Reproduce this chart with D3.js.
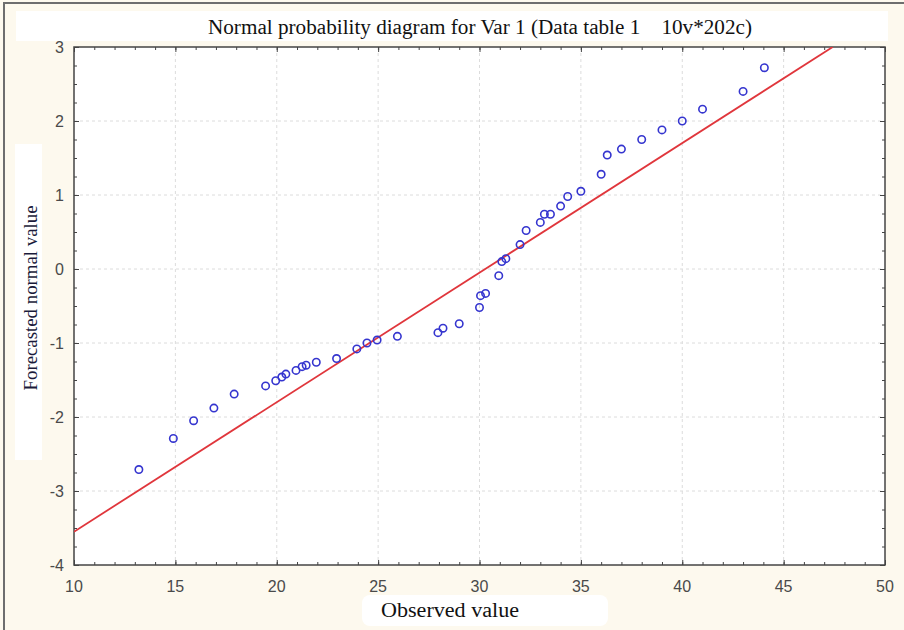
<!DOCTYPE html>
<html>
<head>
<meta charset="utf-8">
<script src="https://cdn.jsdelivr.net/npm/d3@7"></script>
<style>
  body { margin: 0; background: #fdf9ee; }
  svg { display: block; }
</style>
</head>
<body>
<svg id="chart" width="904" height="630"></svg>
<script>
const observed = [13.2, 14.9, 15.9, 16.9, 17.9, 19.45, 19.95, 20.25, 20.45, 20.95, 21.25, 21.45, 21.95,
  22.95, 23.95, 24.45, 24.95, 25.95, 27.95, 28.2, 29.0, 30.0, 30.05, 30.3, 30.95, 31.1, 31.3,
  32.0, 32.3, 33.0, 33.2, 33.5, 34.0, 34.35, 35.0, 36.0, 36.3, 37.0, 38.0, 39.0, 40.0, 41.0, 43.0, 44.05];
const forecast = [-2.71, -2.29, -2.05, -1.88, -1.69, -1.58, -1.51, -1.46, -1.42, -1.37, -1.32, -1.30, -1.26,
  -1.21, -1.08, -1.00, -0.96, -0.91, -0.86, -0.80, -0.74, -0.52, -0.36, -0.33, -0.09, 0.10, 0.14,
  0.33, 0.52, 0.63, 0.74, 0.74, 0.85, 0.98, 1.05, 1.28, 1.54, 1.62, 1.75, 1.88, 2.00, 2.16, 2.40, 2.72];

// reference line end points
const lineX = [10, 47.42];
const lineY = [-3.55, 3];

const xTicks = [10, 15, 20, 25, 30, 35, 40, 45, 50];
const yTicks = [-4, -3, -2, -1, 0, 1, 2, 3];

const svg = d3.select("#chart");
const pL = 74, pR = 885, pT = 47, pB = 565;

const x = d3.scaleLinear().domain([10, 50]).range([pL, pR]);
const y = d3.scaleLinear().domain([-4, 3]).range([pB, pT]);

// outer frame, left and top only
svg.append("path")
    .attr("d", "M4,630 V3 H904")
    .attr("fill", "none")
    .attr("stroke", "#6e6e6e")
    .attr("stroke-width", 2);

// white patches behind the titles
svg.append("rect").attr("x", 16).attr("y", 11).attr("width", 872).attr("height", 30).attr("fill", "#fff");
svg.append("rect").attr("x", 362).attr("y", 595).attr("width", 246).attr("height", 31).attr("rx", 8).attr("fill", "#fff");
svg.append("rect").attr("x", 15).attr("y", 144).attr("width", 27).attr("height", 316).attr("fill", "#fff");

// plot background
svg.append("rect")
    .attr("x", pL).attr("y", pT)
    .attr("width", pR - pL).attr("height", pB - pT)
    .attr("fill", "#fff");

// grid
svg.append("g").selectAll("line")
    .data(xTicks.slice(1, -1))
    .join("line")
    .attr("x1", d => x(d)).attr("x2", d => x(d))
    .attr("y1", pT).attr("y2", pB)
    .attr("stroke", "#dcdcdc").attr("stroke-dasharray", "3,3");
svg.append("g").selectAll("line")
    .data(yTicks.slice(1, -1))
    .join("line")
    .attr("x1", pL).attr("x2", pR)
    .attr("y1", d => y(d)).attr("y2", d => y(d))
    .attr("stroke", "#dcdcdc").attr("stroke-dasharray", "3,3");

// axes with inward ticks
const xMinor = d3.range(10, 50.01, 1);
const yMinor = d3.range(-4, 3.01, 0.25);

function axisTicks(g, axis, vals, len) {
  g.call(axis.tickValues(vals).tickSize(len).tickFormat(""));
  g.select(".domain").remove();
  g.selectAll("line").attr("stroke", "#444");
}

svg.append("g").attr("transform", `translate(0,${pB})`).call(g => axisTicks(g, d3.axisTop(x), xMinor, 3));
svg.append("g").attr("transform", `translate(0,${pB})`).call(g => axisTicks(g, d3.axisTop(x), xTicks, 5));
svg.append("g").attr("transform", `translate(0,${pT})`).call(g => axisTicks(g, d3.axisBottom(x), xMinor, 3));
svg.append("g").attr("transform", `translate(0,${pT})`).call(g => axisTicks(g, d3.axisBottom(x), xTicks, 5));
svg.append("g").attr("transform", `translate(${pL},0)`).call(g => axisTicks(g, d3.axisRight(y), yMinor, 3));
svg.append("g").attr("transform", `translate(${pL},0)`).call(g => axisTicks(g, d3.axisRight(y), yTicks, 5));
svg.append("g").attr("transform", `translate(${pR},0)`).call(g => axisTicks(g, d3.axisLeft(y), yMinor, 3));
svg.append("g").attr("transform", `translate(${pR},0)`).call(g => axisTicks(g, d3.axisLeft(y), yTicks, 5));

svg.append("rect")
    .attr("x", pL).attr("y", pT)
    .attr("width", pR - pL).attr("height", pB - pT)
    .attr("fill", "none").attr("stroke", "#444").attr("stroke-width", 1.5);

// tick labels
svg.append("g").selectAll("text")
    .data(xTicks)
    .join("text")
    .attr("x", d => x(d)).attr("y", pB + 27)
    .attr("text-anchor", "middle")
    .attr("font-family", "Liberation Sans, Arial, sans-serif")
    .attr("font-size", 16).attr("fill", "#4a4a4a")
    .text(d => d);
svg.append("g").selectAll("text")
    .data(yTicks)
    .join("text")
    .attr("x", pL - 10).attr("y", d => y(d) + 6)
    .attr("text-anchor", "end")
    .attr("font-family", "Liberation Sans, Arial, sans-serif")
    .attr("font-size", 16).attr("fill", "#4a4a4a")
    .text(d => d);

// reference line, clipped to the plot
svg.append("clipPath").attr("id", "clip")
  .append("rect").attr("x", pL).attr("y", pT).attr("width", pR - pL).attr("height", pB - pT);
svg.append("line")
    .attr("clip-path", "url(#clip)")
    .attr("x1", x(lineX[0])).attr("y1", y(lineY[0]))
    .attr("x2", x(lineX[1])).attr("y2", y(lineY[1]))
    .attr("stroke", "#e0363c").attr("stroke-width", 1.8);

// points
svg.append("g").selectAll("circle")
    .data(observed.map((v, i) => [v, forecast[i]]))
    .join("circle")
    .attr("cx", d => x(d[0])).attr("cy", d => y(d[1]))
    .attr("r", 3.7)
    .attr("fill", "none").attr("stroke", "#3535cf").attr("stroke-width", 1.6);

// titles
svg.append("text")
    .attr("x", 480).attr("y", 34)
    .attr("text-anchor", "middle")
    .attr("font-family", "Liberation Serif, Times New Roman, serif")
    .attr("font-size", 20).attr("fill", "#111")
    .attr("textLength", 544).attr("lengthAdjust", "spacingAndGlyphs")
    .style("white-space", "pre")
    .text("Normal probability diagram for Var 1 (Data table 1    10v*202c)");
svg.append("text")
    .attr("x", 450).attr("y", 617)
    .attr("text-anchor", "middle")
    .attr("font-family", "Liberation Serif, Times New Roman, serif")
    .attr("font-size", 20).attr("fill", "#111")
    .attr("textLength", 138).attr("lengthAdjust", "spacingAndGlyphs")
    .text("Observed value");
svg.append("text")
    .attr("transform", "translate(37,298) rotate(-90)")
    .attr("text-anchor", "middle")
    .attr("font-family", "Liberation Serif, Times New Roman, serif")
    .attr("font-size", 19).attr("fill", "#1a1a3a")
    .attr("textLength", 185).attr("lengthAdjust", "spacingAndGlyphs")
    .text("Forecasted normal value");
</script>
</body>
</html>
